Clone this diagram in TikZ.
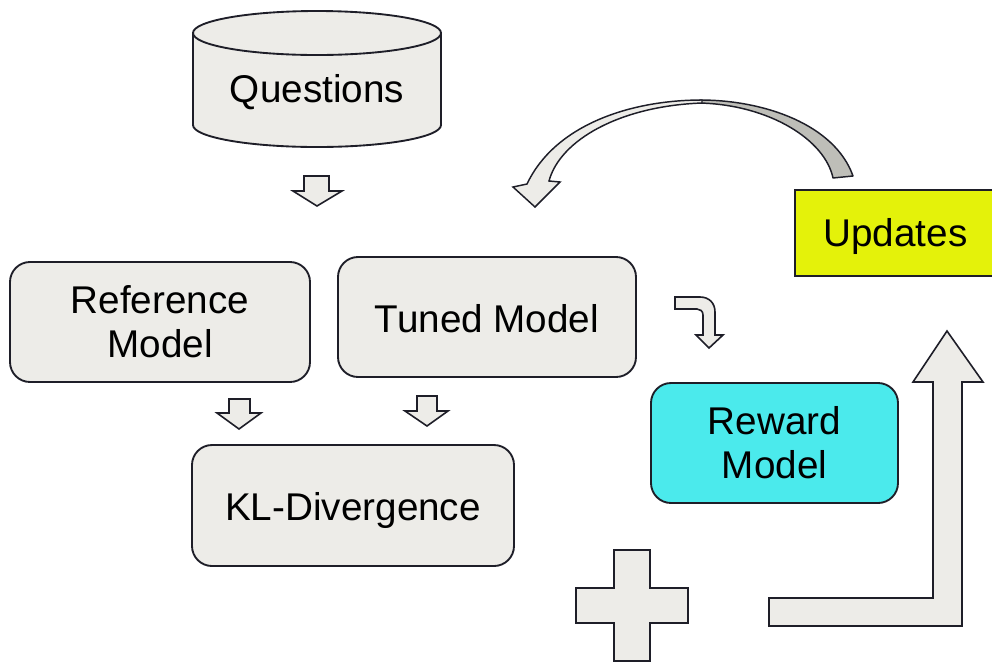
\documentclass[tikz,border=0pt]{standalone}
\usepackage{fontspec}
\setmainfont{Liberation Sans}
\definecolor{boxfill}{RGB}{237,236,232}
\definecolor{boxline}{RGB}{30,30,40}
\definecolor{rewardfill}{RGB}{75,234,236}
\definecolor{updfill}{RGB}{228,242,10}
\definecolor{darkside}{RGB}{190,190,184}
\newcommand{\lowerby}[2]{\raisebox{-#1}[\height][\depth]{#2}}
\begin{document}
\begin{tikzpicture}[x=0.75pt,y=-0.75pt,
  lbl/.style={font=\fontsize{29}{33}\selectfont, align=center, text=black},
  roundbox/.style={draw=boxline, line width=1.4pt, fill=boxfill, rounded corners=15pt, lbl, inner sep=0pt},
  blockarrow/.style={draw=boxline, line width=1.2pt, fill=boxfill, line join=miter}]
\useasboundingbox (0,0) rectangle (992,662);

% Questions cylinder
\path[draw=boxline, line width=1.4pt, fill=boxfill]
  (193,33) -- (193,125) arc[start angle=180,end angle=360,x radius=93pt,y radius=16.5pt]
  -- (441,33) arc[start angle=0,end angle=180,x radius=93pt,y radius=16.5pt] -- cycle;
\draw[boxline, line width=1.4pt] (193,33) arc[start angle=180,end angle=360,x radius=93pt,y radius=16.5pt];
\node[lbl] (questions) at (317,92) {Questions};

% boxes
\node[roundbox, minimum width=225pt, minimum height=90pt] (ref) at (160,322) {Reference\\Model};
\node[roundbox, minimum width=223.5pt, minimum height=90pt] (tuned) at (487,317) {\lowerby{1pt}{Tuned Model}};
\node[roundbox, minimum width=241.5pt, minimum height=90.75pt] (kl) at (353,505.5) {\lowerby{3.5pt}{KL-Divergence}};
\node[roundbox, fill=rewardfill, minimum width=185.25pt, minimum height=90pt] (reward) at (774.5,443) {Reward\\Model};
\node[draw=boxline, line width=1.4pt, fill=updfill, lbl, inner sep=0pt, minimum width=150.75pt, minimum height=64.5pt] (updates) at (895.5,233) {\lowerby{2.5pt}{Updates}};

% small down arrows
\path[blockarrow] (304,176)--(329,176)--(329,191)--(342,191)--(317,206)--(293,191)--(304,191)--cycle;
\path[blockarrow] (229,399)--(250,399)--(250,413)--(261,413)--(239,429)--(217,413)--(229,413)--cycle;
\path[blockarrow] (417,396)--(437,396)--(437,411)--(448,411)--(427,426)--(405,411)--(417,411)--cycle;

% bent arrow towards reward model
\path[blockarrow] (675,297) -- (700,297) .. controls (709,297) and (715,303) .. (715,312) -- (715,335)
  -- (723,335) -- (709,348) -- (696,335) -- (703,335) -- (703,315)
  .. controls (703,311) and (700,309) .. (697,309) -- (675,309) -- cycle;

% plus sign
\path[blockarrow] (614,550)--(650,550)--(650,588)--(688,588)--(688,623)--(650,623)--(650,661)--(614,661)
  --(614,623)--(576,623)--(576,588)--(614,588)--cycle;

% L-shaped up arrow
\path[blockarrow] (769,598)--(933,598)--(933,382)--(913,382)--(947,331)--(983,382)--(962,382)--(962,626)--(769,626)--cycle;

% curved arrow from Updates back to Tuned Model
\path[draw=boxline, line width=1.1pt, fill=darkside, line join=round]
  (700,100) .. controls (765,100) and (835,125) .. (853,176) -- (833,178)
  .. controls (825,140) and (770,105) .. (700,103) -- cycle;
\path[draw=boxline, line width=1.1pt, fill=boxfill, line join=miter]
  (702,100) .. controls (630,100) and (555,125) .. (527,184) -- (513,187) -- (535,207) -- (560,182)
  -- (549,181) .. controls (560,140) and (620,106) .. (702,103) -- cycle;
\end{tikzpicture}
\end{document}
